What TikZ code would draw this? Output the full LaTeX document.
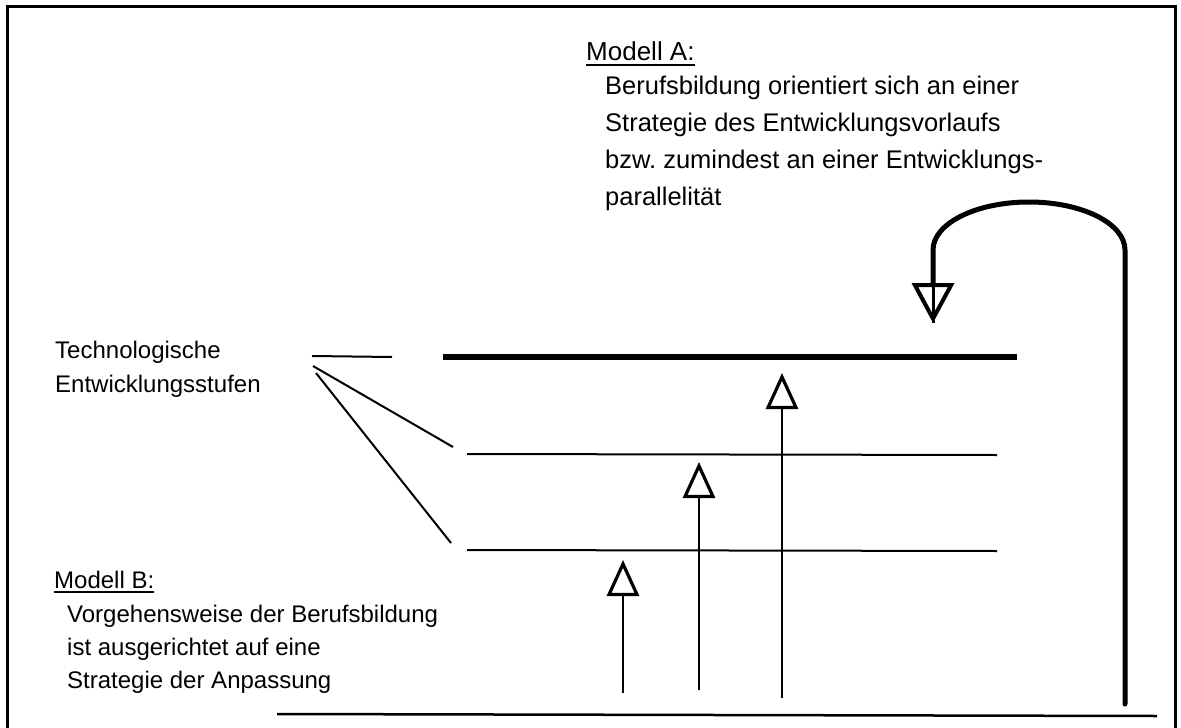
\documentclass[tikz,border=0pt]{standalone}
\usepackage{fontspec}
\setmainfont{Liberation Sans}
\usetikzlibrary{arrows.meta,positioning}
\frenchspacing

\tikzset{
  lbl/.style={inner sep=0pt, anchor=base west, align=left},
  level/.style={line width=2pt},
  uparrow/.style={line width=2.5pt, -{Triangle[open, length=36pt, width=32pt, line width=3.2pt]}},
}

\begin{document}
\begin{tikzpicture}[x=1pt, y=-1pt]
  \useasboundingbox (0,0) rectangle (1181,728);
  \draw[line width=3pt] (7,728) -- (7,6) -- (1175,6) -- (1175,728);

  % texts (base = last line)
  \node[lbl, font=\fontsize{26}{37}\selectfont] (modA) at (586,60) {Modell A:};
  \node[lbl, font=\fontsize{25.5}{37}\selectfont] (modAtxt) at (605,205)
    {Berufsbildung orientiert sich an einer\\
     Strategie des Entwicklungsvorlaufs\\
     bzw. zumindest an einer Entwicklungs-\\
     parallelität};
  \node[lbl, font=\fontsize{24}{34}\selectfont] (tech) at (55,392)
    {Technologische\\Entwicklungsstufen};
  \node[lbl, font=\fontsize{24}{33}\selectfont] (modB) at (54,588) {Modell B:};
  \node[lbl, font=\fontsize{24}{33}\selectfont] (modBtxt) at (67,688)
    {Vorgehensweise der Berufsbildung\\
     ist ausgerichtet auf eine\\
     Strategie der Anpassung};
  \draw[line width=1.5pt] ([yshift=-5pt]modA.base west) -- ([yshift=-5pt]modA.base east);
  \draw[line width=1.5pt] ([yshift=-4pt]modB.base west) -- ([yshift=-4pt]modB.base east);

  % levels
  \coordinate (t0) at (312,356);
  \coordinate (t1) at (392,357);
  \coordinate (d1) at (313,366);
  \coordinate (d2) at (316,373);
  \coordinate (top w) at (443,357);
  \coordinate (top e) at (1017,357);
  \coordinate (mid w) at (467,454);
  \coordinate (mid e) at (997,455);
  \coordinate (low w) at (467,550);
  \coordinate (low e) at (997,551);
  \coordinate (base w) at (277,714);
  \coordinate (base e) at (1157,716);

  \draw[level] (t0) -- (t1);
  \draw[level] (d1) -- (453,447);
  \draw[level] (d2) -- (451,543);
  \draw[line width=6pt] (top w) -- (top e);
  \draw[level] (mid w) -- (mid e);
  \draw[level] (low w) -- (low e);
  \draw[line width=2.5pt] (base w) -- (base e);

  % arrows
  \draw[uparrow] (623,693) -- (623,560);
  \draw[uparrow] (699,690) -- (699,462);
  \draw[uparrow] (782,698) -- (782,373);

  % Modell A loop
  \coordinate (loop s) at (1125,704);
  \coordinate (loop t) at (933,323);
  \draw[line width=5pt, line cap=round, -{Triangle[open, length=40pt, width=42pt, line width=4pt]}]
    (loop s) -- (1125,250) arc[start angle=0, end angle=-180, x radius=96, y radius=48] -- (loop t);
  \draw[line width=3pt] (933,284) -- (loop t);
\end{tikzpicture}
\end{document}
